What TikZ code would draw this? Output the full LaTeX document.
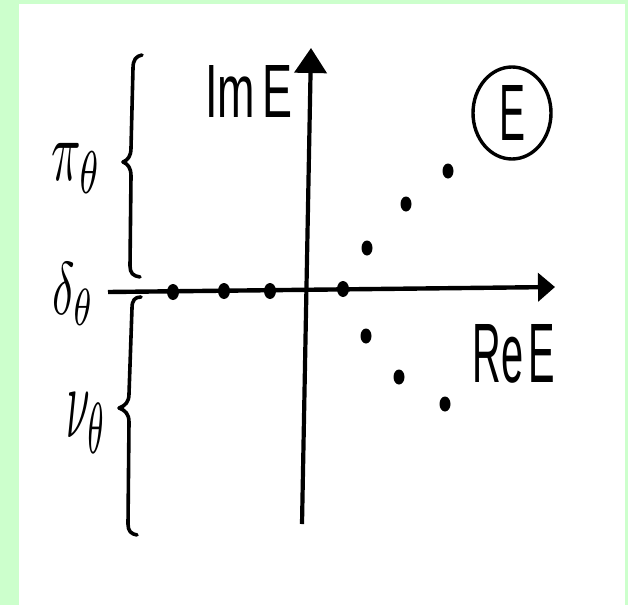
\documentclass[tikz,border=0pt]{standalone}
\usepackage{fontspec}
\setsansfont{Liberation Sans}
\usetikzlibrary{arrows.meta,shapes.geometric}
\definecolor{bgreen}{HTML}{CCFFCC}
\tikzset{
  brace/.style={line width=3.6pt,line cap=round,line join=round},
  dot/.style={ellipse,fill=black,minimum width=12pt,minimum height=16pt,inner sep=0pt},
  sdot/.style={dot,minimum width=11pt,minimum height=15pt},
  lbl/.style={inner sep=0pt,font=\sffamily}
}
\begin{document}
\begin{tikzpicture}[x=1pt,y=-1pt]
\useasboundingbox (0,0) rectangle (628,605);
\fill[bgreen] (0,0) rectangle (628,605);
\fill[white] (19,4) rectangle (625,605);
% axes
\coordinate (hl) at (108,292);
\coordinate (hr) at (555,287);
\coordinate (vb) at (302,524);
\coordinate (vt) at (311,48);
\draw[line width=4.4pt,-{Triangle[length=17pt,width=28pt]}] (hl) -- (hr);
\draw[line width=4.2pt,-{Triangle[length=25pt,width=32pt]}] (vb) -- (vt);
% dots on axis
\node[dot] (a1) at (173,292) {};
\node[dot] (a2) at (224,291) {};
\node[dot] (a3) at (270,291) {};
\node[dot] (a4) at (343,289) {};
% upper dots
\node[sdot] (u1) at (367,248) {};
\node[sdot] (u2) at (406,204) {};
\node[sdot] (u3) at (448,171) {};
% lower dots
\node[sdot] (l1) at (366,336) {};
\node[sdot] (l2) at (399,377) {};
\node[sdot] (l3) at (445,404) {};
% braces
\draw[brace] (142,55) .. controls (136,56) and (133,60) .. (133,68)
  -- (131,148) .. controls (131,156) and (128,160) .. (123,162)
  .. controls (128,164) and (131,168) .. (131,176)
  -- (130,266) .. controls (130,273) and (133,276) .. (140,277);
\draw[brace] (141,297) .. controls (135,297) and (132,300) .. (132,308)
  -- (129,394) .. controls (129,402) and (125,406) .. (119,408)
  .. controls (125,410) and (129,414) .. (129,422)
  -- (128,524) .. controls (128,531) and (131,534) .. (137,535);
% labels
\node[lbl] (im) at (249,91) {\resizebox{88pt}{52pt}{Im\kern0.18em E}};
\node[lbl] (re) at (514,354) {\resizebox{82pt}{58pt}{Re\kern0.12em E}};
\node[draw,line width=3.4pt,ellipse,minimum width=78pt,minimum height=92pt,inner sep=0pt] (ce) at (512,113) {\resizebox{26pt}{55pt}{\sffamily E}};
\node[lbl] (pi) at (77,168) {\resizebox*{50pt}{50pt}{$\pi_\theta$}};
\node[lbl] (de) at (74,294) {\resizebox*{42pt}{63pt}{$\delta_\theta$}};
\node[lbl] (nu) at (87,423) {\resizebox*{40pt}{60pt}{$\nu_\theta$}};
\end{tikzpicture}
\end{document}
